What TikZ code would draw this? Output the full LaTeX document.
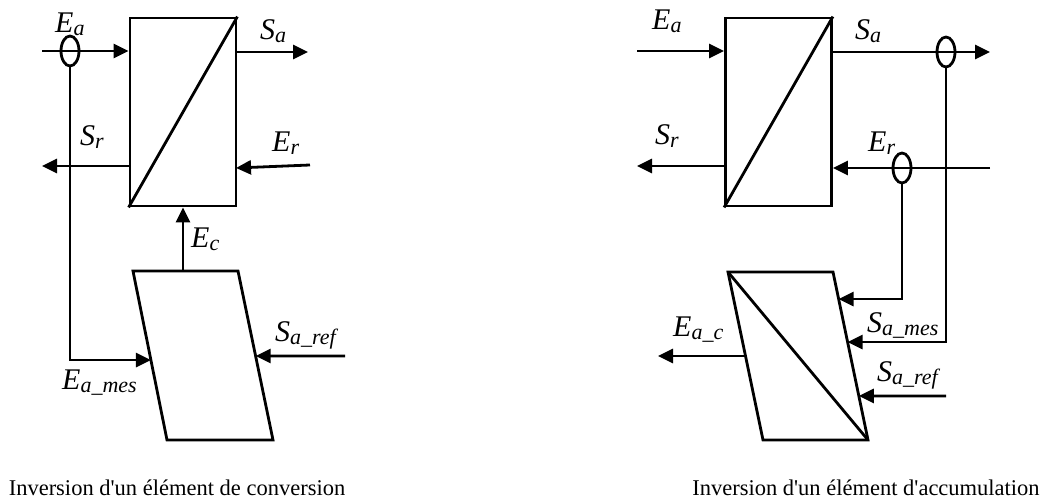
\documentclass[tikz,border=0pt]{standalone}
\usepackage{fontspec}
\setmainfont{Liberation Serif}
\usetikzlibrary{arrows.meta,shapes.geometric,calc}
\newcommand{\lab}[2]{{\fontsize{30}{30}\selectfont\itshape #1\raisebox{-3pt}{\fontsize{22}{22}\selectfont #2}}}
\tikzset{
  ln/.style={line width=2.8pt},
  arr/.style={ln,-{Triangle[length=15pt,width=14pt]}},
  blk/.style={draw,line width=2.8pt,rectangle,minimum width=106pt,minimum height=188pt,inner sep=0pt},
  meas/.style={draw,line width=2.8pt,ellipse,minimum width=18pt,minimum height=30pt,inner sep=0pt},
  lbl/.style={anchor=base west,inner sep=0pt},
  captxt/.style={anchor=base,inner sep=0pt,font=\fontsize{22.5}{22.5}\selectfont}
}
\begin{document}
\begin{tikzpicture}[x=1pt,y=-1pt]
\useasboundingbox (0,0) rectangle (1050,502);
% ---------- left diagram ----------
\node[blk] (B1) at (183,112) {};
\draw[ln] (B1.south west) -- (B1.north east);
\coordinate (P1a) at (133,271);
\coordinate (P1b) at (238,271);
\coordinate (P1c) at (273,440);
\coordinate (P1d) at (167,440);
\draw[ln,line join=miter] (P1a) -- (P1b) -- (P1c) -- (P1d) -- cycle;
\node[meas] (M1) at (70,51) {};
\coordinate (ea1) at (42,51);
\draw[arr] (ea1) -- (ea1 -| B1.west);
\coordinate (sa1) at (308,52);
\draw[arr] (sa1 -| B1.east) -- (sa1);
\coordinate (sr1) at (42,166);
\draw[arr] (sr1 -| B1.west) -- (sr1);
\coordinate (er1) at (310,165);
\coordinate (er1e) at (236,168);
\draw[arr] (er1) -- (er1e);
\coordinate (pl1) at ($(P1a)!0.527!(P1d)$);
\draw[arr] (M1.south) |- (pl1);
\draw[arr] (B1.south |- P1a) -- (B1.south);
\coordinate (pr1) at ($(P1b)!0.503!(P1c)$);
\coordinate (sref1) at (345,356);
\draw[arr] (sref1) -- (pr1);
\node[lbl] (tEa1) at (55,33) {\lab{E}{a}};
\node[lbl] (tSa1) at (260,40) {\lab{S}{a}};
\node[lbl] (tSr1) at (80,146) {\lab{S}{r}};
\node[lbl] (tEr1) at (272,152) {\lab{E}{r}};
\node[lbl] (tEc1) at (191,248) {\lab{E}{c}};
\node[lbl] (tSref1) at (275,342) {\lab{S}{a\_ref}};
\node[lbl] (tEmes1) at (62,390) {\lab{E}{a\_mes}};
\node[captxt] (c1) at (177,496) {Inversion d\textquotesingle un élément de conversion};
% ---------- right diagram ----------
\node[blk] (B2) at (778.5,112) {};
\draw[ln] (B2.south west) -- (B2.north east);
\coordinate (P2a) at (728,272);
\coordinate (P2b) at (833,272);
\coordinate (P2c) at (868,440);
\coordinate (P2d) at (763,440);
\draw[ln,line join=miter] (P2a) -- (P2b) -- (P2c) -- (P2d) -- cycle;
\draw[ln] (P2a) -- (P2c);
\node[meas] (M2) at (946,52) {};
\node[meas] (M3) at (902,168) {};
\coordinate (ea2) at (637,51);
\draw[arr] (ea2) -- (ea2 -| B2.west);
\coordinate (sa2) at (990,52);
\draw[arr] (sa2 -| B2.east) -- (sa2);
\coordinate (sr2) at (637,166);
\draw[arr] (sr2 -| B2.west) -- (sr2);
\coordinate (er2) at (990,168);
\draw[arr] (er2) -- (er2 -| B2.east);
\coordinate (q1) at ($(P2b)!0.161!(P2c)$);
\coordinate (q2) at ($(P2b)!0.417!(P2c)$);
\coordinate (q3) at ($(P2b)!0.738!(P2c)$);
\draw[arr] (M3.south) |- (q1);
\draw[arr] (M2.south) |- (q2);
\coordinate (sref2) at (946,396);
\draw[arr] (sref2) -- (q3);
\coordinate (q4) at ($(P2a)!0.5!(P2d)$);
\coordinate (eac2) at (658,356);
\draw[arr] (q4) -- (eac2);
\node[lbl] (tEa2) at (652,30) {\lab{E}{a}};
\node[lbl] (tSa2) at (855,40) {\lab{S}{a}};
\node[lbl] (tSr2) at (655,145) {\lab{S}{r}};
\node[lbl] (tEr2) at (868,152) {\lab{E}{r}};
\node[lbl] (tEac2) at (673,337) {\lab{E}{a\_c}};
\node[lbl] (tSmes2) at (867,333) {\lab{S}{a\_mes}};
\node[lbl] (tSref2) at (877,382) {\lab{S}{a\_ref}};
\node[captxt] (c2) at (866,496) {Inversion d\textquotesingle un élément d\textquotesingle accumulation};
\end{tikzpicture}
\end{document}
